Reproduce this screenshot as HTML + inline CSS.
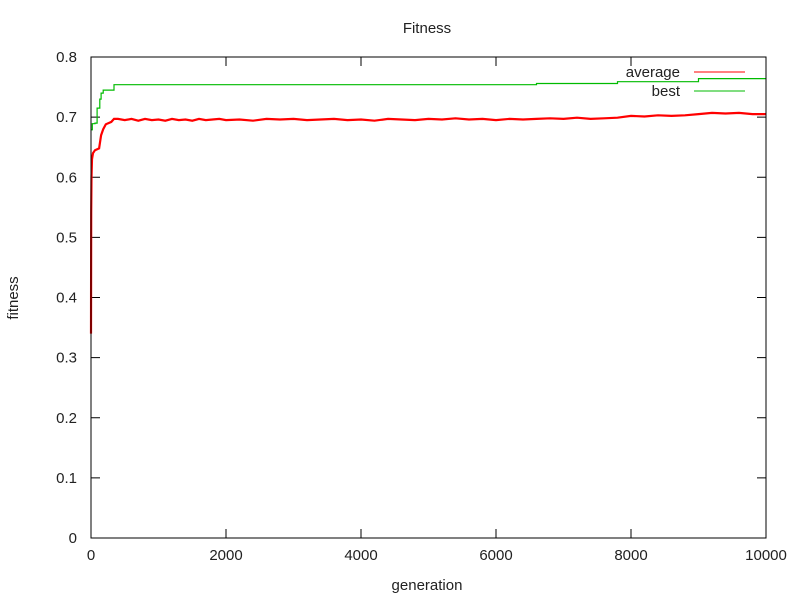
<!DOCTYPE html>
<html><head><meta charset="utf-8"><style>
body{margin:0;background:#fff;}
svg text{font-family:"Liberation Sans",sans-serif;font-size:15px;fill:#222;}
</style></head><body>
<svg id="chart" width="800" height="600" xmlns="http://www.w3.org/2000/svg">
<rect width="800" height="600" fill="#fff"/>
<text x="427" y="33" text-anchor="middle">Fitness</text>
<text x="427" y="590" text-anchor="middle">generation</text>
<text x="18" y="298" text-anchor="middle" transform="rotate(-90 18 298)">fitness</text>
<g id="ticks"></g>
<g id="series"></g>
<rect x="91" y="57" width="675" height="481" fill="none" stroke="#000" stroke-width="1"/>
<g>
<text x="680" y="77" text-anchor="end">average</text>
<line x1="694" y1="72" x2="745" y2="72" stroke="#f00"/>
<text x="680" y="96" text-anchor="end">best</text>
<line x1="694" y1="91" x2="745" y2="91" stroke="#0b0"/>
</g>
</svg>
<script>
const xTicks=[0,2000,4000,6000,8000,10000];
const yTicks=[0,0.1,0.2,0.3,0.4,0.5,0.6,0.7,0.8];
const yTickLabels=["0","0.1","0.2","0.3","0.4","0.5","0.6","0.7","0.8"];
const avgGen=[0,3,8,15,30,60,120,150,180,220,260,300,340,400,500,600,700,800,900,1000,1100,1200,1300,1400,1500,1600,1700,1800,1900,2000,2200,2400,2600,2800,3000,3200,3400,3600,3800,4000,4200,4400,4600,4800,5000,5200,5400,5600,5800,6000,6200,6400,6600,6800,7000,7200,7400,7600,7800,8000,8200,8400,8600,8800,9000,9200,9400,9600,9800,10000];
const avgVal=[0.34,0.54,0.6,0.63,0.64,0.645,0.648,0.67,0.68,0.688,0.69,0.692,0.697,0.697,0.695,0.697,0.694,0.697,0.695,0.696,0.694,0.697,0.695,0.696,0.694,0.697,0.695,0.696,0.697,0.695,0.696,0.694,0.697,0.696,0.697,0.695,0.696,0.697,0.695,0.696,0.694,0.697,0.696,0.695,0.697,0.696,0.698,0.696,0.697,0.695,0.697,0.696,0.697,0.698,0.697,0.699,0.697,0.698,0.699,0.702,0.701,0.703,0.702,0.703,0.705,0.707,0.706,0.707,0.705,0.705];
const bestGen=[0,20,60,90,130,150,180,340,6600,7800,9000,10000];
const bestVal=[0.679,0.689,0.69,0.715,0.73,0.74,0.745,0.754,0.756,0.759,0.764,0.764];
const L=91,R=766,T=57,B=538;
const sx=g=>L+(g-0)/(10000-0)*(R-L);
const sy=v=>B-(v-0)/(0.8-0)*(B-T);
const NS="http://www.w3.org/2000/svg";
const tg=document.getElementById('ticks'),sg=document.getElementById('series');
function mk(tag,attrs,parent){const e=document.createElementNS(NS,tag);for(const k in attrs)e.setAttribute(k,attrs[k]);parent.appendChild(e);return e;}
xTicks.forEach(t=>{const x=sx(t);
 const a=mk('line',{x1:x,y1:B,x2:x,y2:B-9,stroke:'#000'},tg);
 
 
 const b=mk('line',{x1:x,y1:T,x2:x,y2:T+9,stroke:'#000'},tg);
 
 
 const tx=mk('text',{x:x,y:B+22,'text-anchor':'middle'},tg);tx.textContent=String(t);
 
 
});
yTicks.forEach((t,i)=>{const y=sy(t);
 const a=mk('line',{x1:L,y1:y,x2:L+9,y2:y,stroke:'#000'},tg);
 
 
 const b=mk('line',{x1:R,y1:y,x2:R-9,y2:y,stroke:'#000'},tg);
 
 
 const tx=mk('text',{x:L-14,y:y+5,'text-anchor':'end'},tg);tx.textContent=yTickLabels[i];
 
 
});
let d='';avgGen.forEach((g,i)=>{d+=(i?'L':'M')+sx(g).toFixed(1)+' '+sy(avgVal[i]).toFixed(1);});
const pa=mk('path',{d:d,fill:'none',stroke:'#f00','stroke-width':2.2},sg);


let d2='';bestGen.forEach((g,i)=>{const x=sx(g).toFixed(1),y=sy(bestVal[i]).toFixed(1);
 if(i===0)d2+='M'+x+' '+y;else d2+='H'+x+'V'+y;});
const pb=mk('path',{d:d2,fill:'none',stroke:'#0b0','stroke-width':1.2},sg);


</script>
</body></html>
